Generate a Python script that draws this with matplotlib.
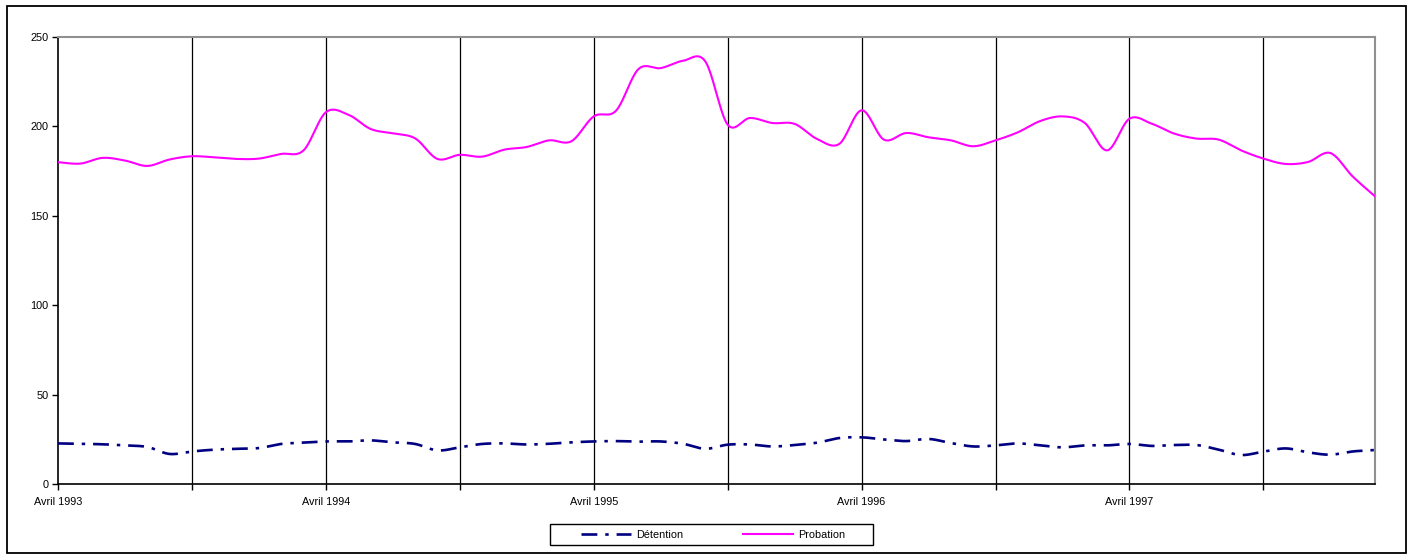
import numpy as np
import matplotlib
matplotlib.use("Agg")
import matplotlib.pyplot as plt
from matplotlib.lines import Line2D
from matplotlib.patches import Rectangle

plt.rcParams['font.family'] = ['Liberation Sans', 'DejaVu Sans']

# ---- data (monthly, Avril 1993 .. Mars 1998) ----
detention = [22.7, 22.5, 22.2, 21.6, 20.7, 16.8, 18.2, 19.2, 19.7, 20.1,
             22.4, 23.1, 23.8, 23.8, 24.4, 23.3, 22.4, 18.8, 20.5, 22.4,
             22.7, 22.1, 22.5, 23.3, 23.8, 24.0, 23.7, 23.8, 22.5, 19.7,
             22.0, 22.1, 21.0, 21.8, 23.1, 25.7, 26.1, 24.9, 24.0, 25.2,
             22.9, 21.0, 21.6, 22.7, 21.6, 20.5, 21.6, 21.6, 22.4, 21.3,
             21.8, 21.8, 19.2, 16.2, 18.1, 19.9, 17.7, 16.4, 18.2, 19.0]
probation = [180.0, 179.2, 182.4, 180.9, 177.9, 181.5, 183.3, 182.7, 181.8, 182.0,
             184.6, 186.6, 207.9, 206.6, 198.6, 196.1, 193.3, 181.8, 184.1, 183.1,
             187.0, 188.5, 192.2, 191.7, 205.6, 208.8, 232.0, 232.6, 236.7, 236.3,
             201.0, 204.7, 201.9, 201.4, 193.0, 190.2, 209.0, 192.6, 196.3, 193.9,
             192.2, 188.9, 192.2, 196.7, 203.0, 205.6, 201.9, 186.6, 204.3, 201.5,
             196.0, 193.2, 192.6, 186.6, 182.0, 179.0, 180.1, 185.1, 172.0, 160.9]
tick_labels = ["Avril 1993", "Avril 1994", "Avril 1995", "Avril 1996", "Avril 1997"]
series_names = ["Détention", "Probation"]


def smooth(y, n=20):
    """Excel-like smoothed line (Catmull-Rom / Bezier through the points)."""
    y = np.asarray(y, float)
    x = np.arange(len(y), dtype=float)
    xs, ys = [], []
    for i in range(len(y) - 1):
        p0 = (x[i - 1], y[i - 1]) if i > 0 else (x[i], y[i])
        p1 = (x[i], y[i])
        p2 = (x[i + 1], y[i + 1])
        p3 = (x[i + 2], y[i + 2]) if i + 2 < len(y) else (x[i + 1], y[i + 1])
        c1 = (p1[0] + (p2[0] - p0[0]) / 6, p1[1] + (p2[1] - p0[1]) / 6)
        c2 = (p2[0] - (p3[0] - p1[0]) / 6, p2[1] - (p3[1] - p1[1]) / 6)
        t = np.linspace(0, 1, n, endpoint=False)
        b = [(1 - t) ** 3, 3 * (1 - t) ** 2 * t, 3 * (1 - t) * t ** 2, t ** 3]
        xs.append(b[0] * p1[0] + b[1] * c1[0] + b[2] * c2[0] + b[3] * p2[0])
        ys.append(b[0] * p1[1] + b[1] * c1[1] + b[2] * c2[1] + b[3] * p2[1])
    xs.append([x[-1]])
    ys.append([y[-1]])
    return np.concatenate(xs), np.concatenate(ys)


W, H = 1413, 554
fig = plt.figure(figsize=(W / 100, H / 100), dpi=100)
fig.patch.set_facecolor("white")

# outer chart border
fig.patches.append(Rectangle((7 / W, 1 - 553 / H), (1406 - 7) / W, (553 - 6) / H,
                             transform=fig.transFigure, fill=False,
                             edgecolor="black", linewidth=1.3))

ax = fig.add_axes([58 / W, 1 - 484 / H, 1317 / W, 447 / H])
n = len(probation)
ax.set_xlim(0, n - 1)
ax.set_ylim(0, 250)

xd, yd = smooth(detention)
xp, yp = smooth(probation)
ax.plot(xd, yd, color="#000080", lw=1.9, dashes=(6, 3, 1.3, 3), zorder=3)
ax.plot(xp, yp, color="#FF00FF", lw=1.5, zorder=3)

# vertical gridlines every 6 months
for xv in range(6, n, 6):
    ax.axvline(xv, color="black", lw=0.9, zorder=1)

ax.set_yticks(np.arange(0, 251, 50))
ax.set_xticks(np.arange(0, n, 6))
lbls = []
for k in range(0, n, 6):
    lbls.append(tick_labels[k // 12] if k % 12 == 0 else "")
ax.set_xticklabels(lbls)
ax.tick_params(axis="both", direction="out", length=4, width=1, colors="black",
               labelsize=7.8)
ax.tick_params(axis="x", pad=5.5)
ax.tick_params(axis="y", pad=3)

for s in ["top", "right"]:
    ax.spines[s].set_color("#909090")
    ax.spines[s].set_linewidth(1.5)
for s in ["left", "bottom"]:
    ax.spines[s].set_color("black")
    ax.spines[s].set_linewidth(1.2)

# legend box
fig.patches.append(Rectangle((550 / W, 1 - 545 / H), (873 - 550) / W, (545 - 524) / H,
                             transform=fig.transFigure, fill=True, facecolor="white",
                             edgecolor="black", linewidth=1.0, zorder=4))
h1 = Line2D([], [], color="#000080", lw=1.9, dashes=(6, 3, 1.3, 3))
h2 = Line2D([], [], color="#FF00FF", lw=1.5)
leg = fig.legend([h1, h2], series_names, loc="center",
                 bbox_to_anchor=(713 / W, 1 - 535 / H), ncol=2, fontsize=7.8,
                 frameon=False, handlelength=4.6, handletextpad=0.5,
                 columnspacing=5.5, borderpad=0.2, borderaxespad=0)
leg.set_zorder(5)

fig.savefig("out.png", dpi=100, facecolor="white")
